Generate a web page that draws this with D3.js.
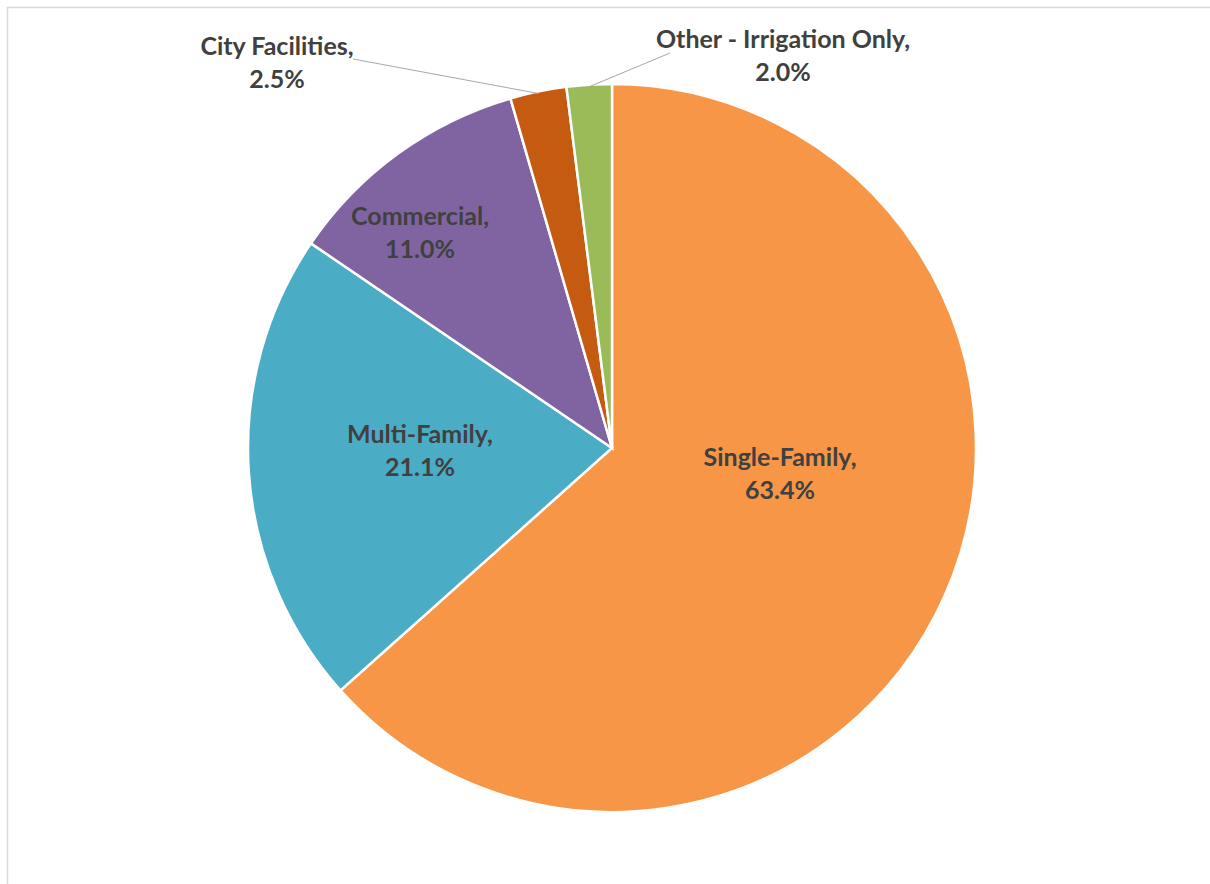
<!DOCTYPE html>
<html>
<head>
<meta charset="utf-8">
<script src="https://cdn.jsdelivr.net/npm/d3@7"></script>
<style>
  html, body { margin: 0; padding: 0; background: #fff; }
  svg text { font-family: Lato, "Open Sans", sans-serif; font-weight: bold; fill: #404040; }
</style>
</head>
<body>
<div id="chart"></div>
<script>
(function () {
  'use strict';

  // slice data, clockwise from 12 o'clock
  var categories = ['Single-Family', 'Multi-Family', 'Commercial', 'City Facilities', 'Other - Irrigation Only'];
  var shares = [63.4, 21.1, 11.0, 2.5, 2.0];
  var colors = ['#F79646', '#4BACC6', '#8064A2', '#C55A11', '#9BBB59'];

  var width = 1210, height = 884;
  var cx = 612, cy = 448, r = 364;

  var svg = d3.select('#chart').append('svg')
    .attr('width', width)
    .attr('height', height);

  // faint chart-area frame
  svg.append('rect')
    .attr('x', 7.5).attr('y', 7.5)
    .attr('width', 1230).attr('height', 900)
    .attr('fill', 'none')
    .attr('stroke', '#d9d9d9')
    .attr('stroke-width', 1.5);

  var pie = d3.pie().sort(null).value(function (d) { return d; });
  var arcs = pie(shares);
  var arc = d3.arc().innerRadius(0).outerRadius(r);

  var g = svg.append('g').attr('transform', 'translate(' + cx + ',' + cy + ')');

  g.selectAll('path.slice')
    .data(arcs)
    .enter().append('path')
    .attr('class', 'slice')
    .attr('d', arc)
    .attr('fill', function (d, i) { return colors[i]; })
    .attr('stroke', '#fff')
    .attr('stroke-width', 2.5);

  // label centres relative to the pie centre (Excel-style placement);
  // outside labels get a leader line to the slice edge
  var labelSpec = [
    { dx: 168, dy: 26 },
    { dx: -192, dy: 3 },
    { dx: -192, dy: -215 },
    { dx: -335, dy: -385, outside: true, lx: -259, ly: -389 },
    { dx: 171, dy: -392, outside: true, lx: 58, ly: -395 }
  ];

  arcs.forEach(function (d, i) {
    var spec = labelSpec[i];
    var tx = cx + spec.dx, ty = cy + spec.dy;
    if (spec.outside) {
      var mid = (d.startAngle + d.endAngle) / 2;
      var ex = cx + Math.sin(mid) * (r - 2);
      var ey = cy - Math.cos(mid) * (r - 2);
      svg.append('line')
        .attr('x1', cx + spec.lx).attr('y1', cy + spec.ly)
        .attr('x2', ex).attr('y2', ey)
        .attr('stroke', '#a6a6b0')
        .attr('stroke-width', 1);
    }
    var t = svg.append('text')
      .attr('x', tx).attr('y', ty)
      .attr('text-anchor', 'middle')
      .style('font-size', '25px');
    t.append('tspan').attr('x', tx).attr('y', ty - 16.5).attr('dy', '0.35em').text(categories[i] + ',');
    t.append('tspan').attr('x', tx).attr('y', ty + 16.5).attr('dy', '0.35em').text(d3.format('.1f')(shares[i]) + '%');
  });
})();
</script>
</body>
</html>
